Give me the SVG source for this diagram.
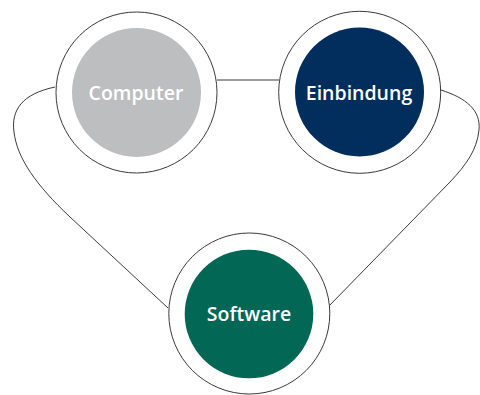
<svg xmlns="http://www.w3.org/2000/svg" width="480" height="395" viewBox="0 0 480 395">
<style>
.ring{fill:#fff;stroke:#3a3a3a;stroke-width:1}
.lbl{font-family:"Open Sans","DejaVu Sans",sans-serif;font-weight:600;font-size:19.5px;fill:#fff;text-anchor:middle}
.con{fill:none;stroke:#3a3a3a;stroke-width:1}
</style>
<rect width="480" height="395" fill="#fff"/>
<g id="connectors">
<path class="con" d="M217,80 L279,80"/>
<path class="con" d="M55,87 C22,94 11,110 14,132 C17,158 36,185 70,217 L168,308"/>
<path class="con" d="M441,90 C466,98 481,110 479,130 C477,150 466,165 450,182 L329,306"/>
</g>
<g id="computer">
<circle class="ring" cx="136.5" cy="92.5" r="80.5"/>
<circle cx="136.5" cy="92.5" r="64.5" fill="#bcbec0"/>
<text class="lbl" x="136" y="100">Computer</text>
</g>
<g id="einbindung">
<circle class="ring" cx="359.7" cy="92.3" r="81"/>
<circle cx="359.5" cy="92" r="64.5" fill="#012e5c"/>
<text class="lbl" x="359" y="100">Einbindung</text>
</g>
<g id="software">
<circle class="ring" cx="249.3" cy="313.5" r="80.5"/>
<circle cx="249" cy="314" r="64.3" fill="#036756"/>
<text class="lbl" x="249" y="321">Software</text>
</g>
</svg>
